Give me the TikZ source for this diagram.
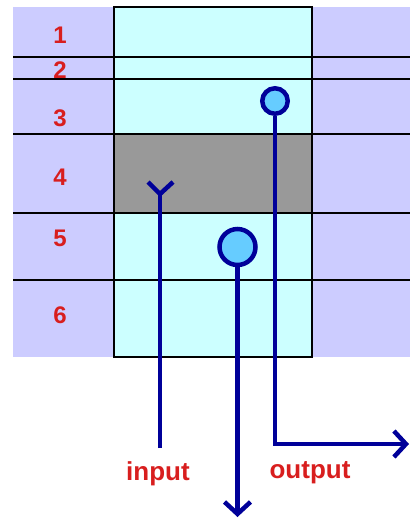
\documentclass[tikz,border=0pt]{standalone}
\usepackage{fontspec}
\setmainfont{Liberation Sans}
\usetikzlibrary{arrows.meta}
\definecolor{lav}{HTML}{CCCCFF}
\definecolor{cyanbox}{HTML}{CCFFFF}
\definecolor{graybox}{HTML}{999999}
\definecolor{numred}{HTML}{D81E1E}
\definecolor{navy}{HTML}{000099}
\definecolor{ltblue}{HTML}{66CCFF}
\begin{document}
\begin{tikzpicture}[x=1pt,y=-1pt,
  sep/.style={draw=black,line width=1.8pt},
  num/.style={text=numred,font=\bfseries\fontsize{24}{28}\selectfont,inner sep=0pt},
  lbl/.style={text=numred,font=\bfseries\fontsize{26}{30}\selectfont,inner sep=0pt,anchor=base},
  wire/.style={draw=navy,line width=4.5pt},
  tip/.style={-{Straight Barb[length=12pt,width=26pt]}},
  port/.style={circle,draw=navy,fill=ltblue,line width=4.5pt,inner sep=0pt}]
\useasboundingbox (0,0) rectangle (410,520);
\fill[lav] (13,7) rectangle (410,357);
\fill[cyanbox] (114,7) rectangle (312,357);
\fill[graybox] (114,134) rectangle (312,213);
\foreach \y in {57,79,134,213,280} \draw[sep] (13,\y) -- (410,\y);
\draw[sep] (114,7) rectangle (312,357);
% row numbers
\node[num] (n1) at (60,35) {1};
\node[num] (n2) at (60,70) {2};
\node[num] (n3) at (60,118) {3};
\node[num] (n4) at (60,177) {4};
\node[num] (n5) at (60,238) {5};
\node[num] (n6) at (60,315) {6};
% ports
\node[port,minimum size=25.5pt] (outc) at (275,101) {};
\node[port,minimum size=36pt] (midc) at (237.5,247) {};
% coordinates
\coordinate (oend) at (409,444);
\coordinate (mend) at (237.5,517);
\coordinate (inbot) at (160,448);
\coordinate (infork) at (160,194);
% connectors
\draw[wire,tip] (outc.south) |- (oend);
\draw[wire,tip] (midc.south) -- (mend);
\draw[wire] (inbot) -- (infork);
\draw[wire] (infork) ++(-12,-12) -- (infork) -- ++(13,-12);
% labels
\node[lbl] (inlbl) at (158,480) {input};
\node[lbl] (outlbl) at (310,478) {output};
\end{tikzpicture}
\end{document}
